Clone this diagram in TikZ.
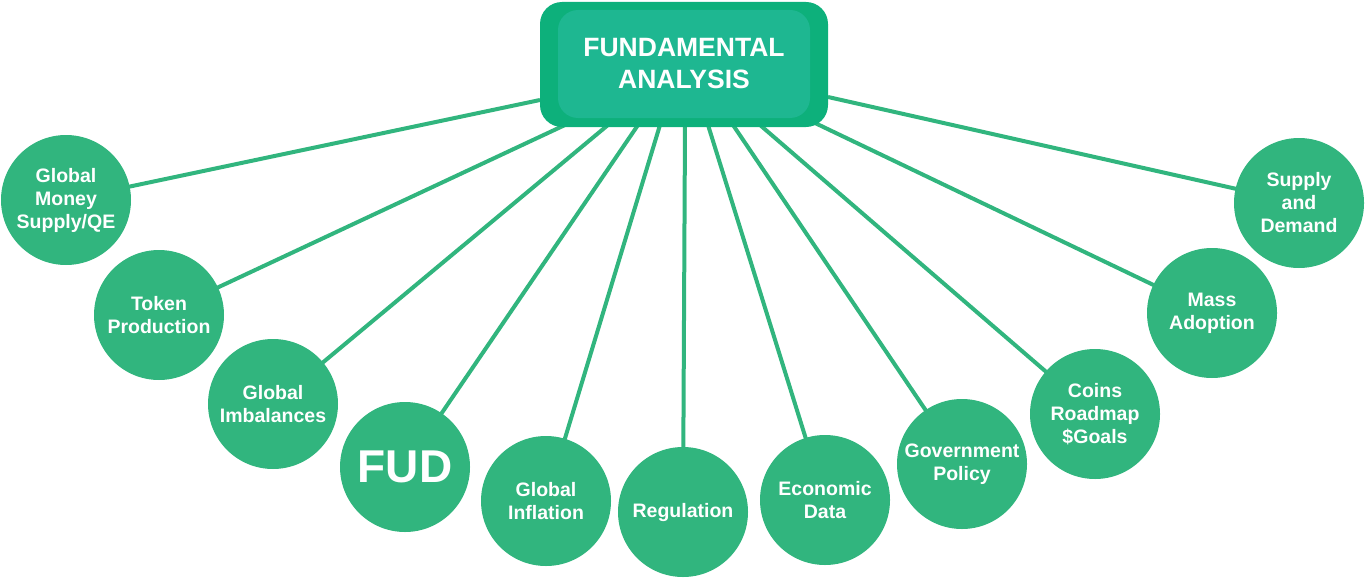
\documentclass[tikz,border=0pt]{standalone}
\usepackage{fontspec}
\setmainfont{Liberation Sans}
\definecolor{cg}{HTML}{31B57E}
\definecolor{bo}{HTML}{0DB07B}
\definecolor{bi}{HTML}{1EB791}
\begin{document}
\begin{tikzpicture}[x=1pt,y=-1pt,
 circ/.style={circle,fill=cg,minimum size=130pt,inner sep=0pt,text=white,font=\bfseries\fontsize{19.5}{23}\selectfont,align=center},
 link/.style={draw=cg,line width=4pt}]
\useasboundingbox (0,0) rectangle (1367,578);
\coordinate (e1) at (540,100);
\coordinate (e2) at (565,125);
\coordinate (e3) at (608,125);
\coordinate (e4) at (638,125);
\coordinate (e5) at (660,125);
\coordinate (e6) at (685,125);
\coordinate (e7) at (708,125);
\coordinate (e8) at (733,125);
\coordinate (e9) at (760,125);
\coordinate (e10) at (815,123);
\coordinate (e11) at (828,97);
\coordinate (p1) at (66,200);
\coordinate (p2) at (159,315);
\coordinate (p3) at (273,404);
\coordinate (p4) at (405,467);
\coordinate (p5) at (546,501);
\coordinate (p6) at (683,512);
\coordinate (p7) at (825,500);
\coordinate (p8) at (962,464);
\coordinate (p9) at (1095,414);
\coordinate (p10) at (1212,313);
\coordinate (p11) at (1299,203);
\foreach \i in {1,...,11} \draw[link] (e\i) -- (p\i);
\node[circ] (c1) at (p1) {Global\\Money\\Supply/QE};
\node[circ] (c2) at (p2) {Token\\Production};
\node[circ] (c3) at (p3) {Global\\Imbalances};
\node[circ,font=\bfseries\fontsize{46}{52}\selectfont] (c4) at (p4) {FUD};
\node[circ] (c5) at (p5) {Global\\Inflation};
\node[circ] (c6) at (p6) {Regulation};
\node[circ] (c7) at (p7) {Economic\\Data};
\node[circ] (c8) at (p8) {Government\\Policy};
\node[circ] (c9) at (p9) {Coins\\Roadmap\\\$Goals};
\node[circ] (c10) at (p10) {Mass\\Adoption};
\node[circ] (c11) at (p11) {Supply\\and\\Demand};
\fill[bo,rounded corners=22pt] (540,2) rectangle (828,127);
\node[fill=bi,rounded corners=20pt,minimum width=252pt,minimum height=108pt,text=white,font=\bfseries\fontsize{26.5}{32}\selectfont,align=center] (top) at (684,64) {FUNDAMENTAL\\ANALYSIS};
\end{tikzpicture}
\end{document}
